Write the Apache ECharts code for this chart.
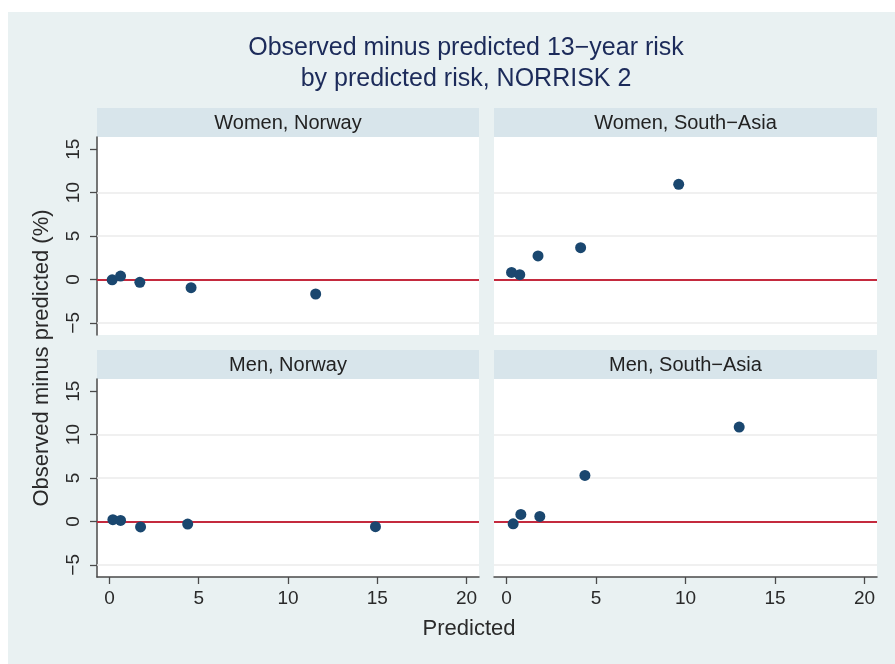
<!DOCTYPE html>
<html>
<head>
<meta charset="utf-8">
<script src="https://cdn.jsdelivr.net/npm/echarts@6/dist/echarts.min.js"></script>
<style>
html,body{margin:0;padding:0;background:#fff;}
#chart{width:895px;height:664px;}
</style>
</head>
<body>
<div id="chart"></div>
<script>
// ---- data ----
const panelTitles = ['Women, Norway', 'Women, South\u2212Asia', 'Men, Norway', 'Men, South\u2212Asia'];
const womenNorwayX = [0.15, 0.62, 1.7, 4.57, 11.55];
const womenNorwayY = [-0.05, 0.38, -0.34, -0.95, -1.68];
const womenSouthAsiaX = [0.28, 0.74, 1.76, 4.14, 9.62];
const womenSouthAsiaY = [0.80, 0.54, 2.71, 3.66, 10.95];
const menNorwayX = [0.19, 0.62, 1.74, 4.38, 14.9];
const menNorwayY = [0.2, 0.12, -0.64, -0.3, -0.61];
const menSouthAsiaX = [0.37, 0.8, 1.86, 4.38, 13.0];
const menSouthAsiaY = [-0.27, 0.8, 0.57, 5.3, 10.86];
const xTicks = [0, 5, 10, 15, 20];
const yTicks = [-5, 0, 5, 10, 15];
const gridValues = [-5, 5, 10];
const refValue = 0;
const titleLines = ['Observed minus predicted 13\u2212year risk', 'by predicted risk, NORRISK 2'];
const yTitle = 'Observed minus predicted (%)';
const xTitle = 'Predicted';

const panelX = [womenNorwayX, womenSouthAsiaX, menNorwayX, menSouthAsiaX];
const panelY = [womenNorwayY, womenSouthAsiaY, menNorwayY, menSouthAsiaY];

// ---- layout ----
const FONT = '"Liberation Sans", Arial, Helvetica, sans-serif';
const grids = [
  {left: 97, top: 137, width: 382, height: 198},
  {left: 494, top: 137, width: 383, height: 198},
  {left: 97, top: 379, width: 382, height: 198},
  {left: 494, top: 379, width: 383, height: 198}
];
const HEADER_H = 29;
const minus = v => String(v).replace('-', '\u2212');

const chart = echarts.init(document.getElementById('chart'), null, {renderer: 'canvas'});

const xAxes = grids.map((g, i) => ({
  type: 'value', gridIndex: i, min: -0.7, max: 20.7,
  show: i >= 2,
  axisLine: {show: true, onZero: false, lineStyle: {color: '#4a4a4a', width: 1.5}},
  axisTick: {show: true, length: 7, customValues: xTicks, lineStyle: {color: '#4a4a4a', width: 1.3}},
  axisLabel: {show: true, customValues: xTicks, margin: 12, fontSize: 19, color: '#2a2a2a', fontFamily: FONT, formatter: minus},
  splitLine: {show: false}
}));
const yAxes = grids.map((g, i) => ({
  type: 'value', gridIndex: i, min: -6.4, max: 16.4,
  show: i % 2 === 0,
  axisLine: {show: true, onZero: false, lineStyle: {color: '#4a4a4a', width: 1.5}},
  axisTick: {show: true, length: 7, customValues: yTicks, lineStyle: {color: '#4a4a4a', width: 1.3}},
  axisLabel: {show: true, customValues: yTicks, rotate: 90, margin: 14, fontSize: 19, color: '#2a2a2a', fontFamily: FONT, formatter: minus},
  splitLine: {show: false}
}));

const series = [];
grids.forEach((g, i) => {
  series.push({
    type: 'scatter', xAxisIndex: i, yAxisIndex: i, data: [], z: 1, silent: true,
    markLine: {
      silent: true, symbol: 'none', label: {show: false}, animation: false,
      data: gridValues.map(v => ({yAxis: v, lineStyle: {color: '#ebebeb', width: 1.6, type: 'solid'}}))
        .concat([{yAxis: refValue, lineStyle: {color: '#c42a3e', width: 2, type: 'solid'}}])
    }
  });
  series.push({
    type: 'scatter', xAxisIndex: i, yAxisIndex: i, z: 5,
    symbol: 'circle', symbolSize: 11,
    itemStyle: {color: '#1a476f', opacity: 1},
    data: panelX[i].map((x, k) => [x, panelY[i][k]])
  });
});

const graphic = [
  {type: 'rect', z: -100, shape: {x: 8, y: 12, width: 887, height: 652}, style: {fill: '#e9f1f2'}}
];
grids.forEach((g, i) => {
  graphic.push({type: 'rect', z: -50, shape: {x: g.left, y: g.top - HEADER_H, width: g.width, height: HEADER_H}, style: {fill: '#d8e5eb'}});
  graphic.push({type: 'text', z: 10, style: {text: panelTitles[i], x: g.left + g.width / 2, y: g.top - HEADER_H / 2 + 1, textAlign: 'center', textVerticalAlign: 'middle', font: '20px ' + FONT, fill: '#222'}});
});
graphic.push({type: 'text', z: 10, rotation: Math.PI / 2, x: 42, y: 358, style: {text: yTitle, x: 0, y: 0, textAlign: 'center', textVerticalAlign: 'middle', font: '22px ' + FONT, fill: '#2a2a2a'}});
graphic.push({type: 'text', z: 10, style: {text: xTitle, x: 469, y: 629, textAlign: 'center', textVerticalAlign: 'middle', font: '22px ' + FONT, fill: '#2a2a2a'}});
graphic.push({type: 'text', z: 10, style: {text: titleLines[0], x: 466, y: 48, textAlign: 'center', textVerticalAlign: 'middle', font: '25px ' + FONT, fill: '#1c2b5a'}});
graphic.push({type: 'text', z: 10, style: {text: titleLines[1], x: 466, y: 79, textAlign: 'center', textVerticalAlign: 'middle', font: '25px ' + FONT, fill: '#1c2b5a'}});

chart.setOption({
  animation: false,
  backgroundColor: '#ffffff',
  grid: grids.map(g => Object.assign({show: true, backgroundColor: '#ffffff', borderWidth: 0, containLabel: false}, g)),
  xAxis: xAxes,
  yAxis: yAxes,
  series: series,
  graphic: graphic
});
</script>
</body>
</html>
